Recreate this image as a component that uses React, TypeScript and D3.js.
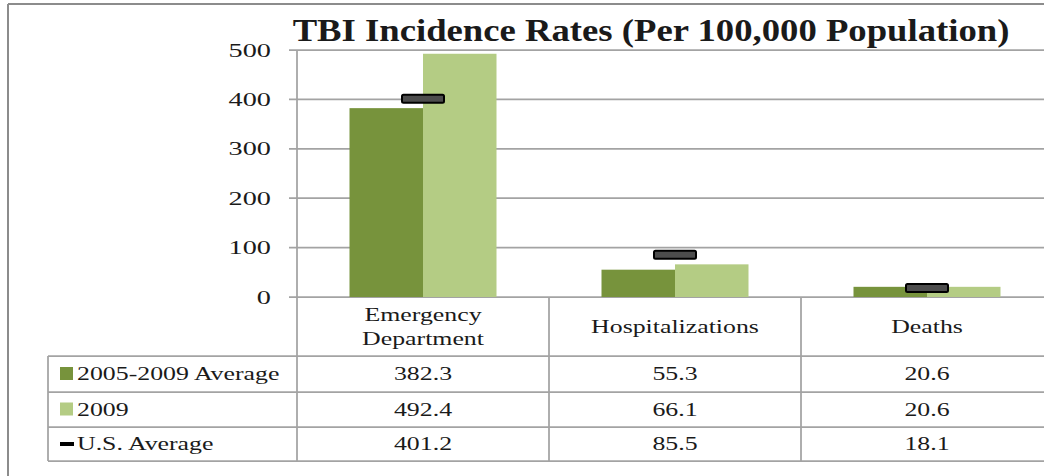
import React from 'react';
import * as d3 from 'd3';

const categoryLines = [['Emergency', 'Department'], ['Hospitalizations'], ['Deaths']];
const categories = ['Emergency Department', 'Hospitalizations', 'Deaths'];
const seriesNames = ['2005-2009 Average', '2009', 'U.S. Average'];
const avg0509 = [382.3, 55.3, 20.6];
const y2009 = [492.4, 66.1, 20.6];
const usAvg = [401.2, 85.5, 18.1];
const yTicks = [0, 100, 200, 300, 400, 500];

const W = 1044;
const H = 476;
const darkGreen = '#77933c';
const lightGreen = '#b4cc84';
const lineGray = '#a3a3a3';
const serif = '"Liberation Serif", serif';
const sx = 1.36; // source text is stretched horizontally

function SText({ x, y, anchor = 'middle', size = 19, stretch = sx, weight = 'normal', children }: any) {
  return (
    <text
      transform={`translate(${x},${y}) scale(${stretch},1)`}
      textAnchor={anchor}
      fontFamily={serif}
      fontSize={size}
      fontWeight={weight}
      fill="#1a1a1a"
    >
      {children}
    </text>
  );
}

export default function App() {
  const plotLeft = 297;
  const x = d3.scaleBand().domain(categories).range([plotLeft, 1053]).padding(0);
  const y = d3.scaleLinear().domain([0, 500]).range([297, 50]);
  const bw = x.bandwidth();
  const groupW = 147;
  const xSub = d3.scaleBand().domain(['avg', 'y09']).range([(bw - groupW) / 2, (bw + groupW) / 2]).padding(0);

  const headerTop = y(0);
  const rowLines = [356, 392, 427, 461];
  const tableBottom = rowLines[rowLines.length - 1];
  const legendLeft = 48;
  const rowValues = [avg0509, y2009, usAvg];

  return (
    <svg width={W} height={H} style={{ position: 'absolute', left: 0, top: 0, background: '#fff' }}>
      {/* outer frame */}
      <line x1={8} x2={W} y1={4} y2={4} stroke="#8c8c8c" strokeWidth={2} />
      <line x1={8} x2={8} y1={4} y2={H} stroke="#8c8c8c" strokeWidth={2} />

      {/* title */}
      <SText x={651} y={41} size={31.5} weight="bold" stretch={1.165}>
        TBI Incidence Rates (Per 100,000 Population)
      </SText>

      {/* gridlines + ticks */}
      {yTicks.map(t => (
        <g key={t}>
          <line x1={plotLeft - 8} x2={W} y1={y(t)} y2={y(t)} stroke={lineGray} strokeWidth={1.75} />
          <SText x={271} y={y(t) + 6.5} anchor="end" size={19.5} stretch={1.45}>{t}</SText>
        </g>
      ))}
      <line x1={plotLeft} x2={plotLeft} y1={y(500)} y2={tableBottom} stroke={lineGray} strokeWidth={1.75} />

      {/* bars */}
      {categories.map((c, i) => (
        <g key={c} transform={`translate(${x(c)},0)`}>
          <rect x={xSub('avg')} y={y(avg0509[i])} width={xSub.bandwidth()} height={y(0) - y(avg0509[i])} fill={darkGreen} />
          <rect x={xSub('y09')} y={y(y2009[i])} width={xSub.bandwidth()} height={y(0) - y(y2009[i])} fill={lightGreen} />
          <rect x={bw / 2 - 21} y={y(usAvg[i]) - 4} width={42} height={8} fill="#4d4d4d" stroke="#000" strokeWidth={2} rx={1.5} />
        </g>
      ))}

      {/* table lines */}
      {rowLines.map((ly, i) => (
        <line key={i} x1={legendLeft} x2={W} y1={ly} y2={ly} stroke={lineGray} strokeWidth={1.75} />
      ))}
      <line x1={legendLeft} x2={legendLeft} y1={rowLines[0]} y2={tableBottom} stroke={lineGray} strokeWidth={1.75} />
      {categories.slice(1).map(c => (
        <line key={c} x1={x(c)} x2={x(c)} y1={headerTop} y2={tableBottom} stroke={lineGray} strokeWidth={1.75} />
      ))}

      {/* header */}
      {categories.map((c, i) => {
        const lines = categoryLines[i];
        const cy = (headerTop + rowLines[0]) / 2;
        return lines.map((ln, j) => (
          <SText key={c + j} x={x(c)! + bw / 2} y={cy + 6 + (j - (lines.length - 1) / 2) * 24}>{ln}</SText>
        ));
      })}

      {/* rows */}
      {seriesNames.map((s, r) => {
        const top = rowLines[r];
        const bot = rowLines[r + 1];
        const cy = (top + bot) / 2;
        return (
          <g key={s}>
            {r < 2 ? (
              <rect x={60} y={cy - 7} width={13} height={13} fill={r === 0 ? darkGreen : lightGreen} />
            ) : (
              <rect x={60} y={cy - 2} width={14} height={4} fill="#000" />
            )}
            <SText x={77} y={cy + 6} anchor="start">{s}</SText>
            {categories.map((c, i) => (
              <SText key={c} x={x(c)! + bw / 2} y={cy + 6}>{rowValues[r][i].toFixed(1)}</SText>
            ))}
          </g>
        );
      })}
    </svg>
  );
}
